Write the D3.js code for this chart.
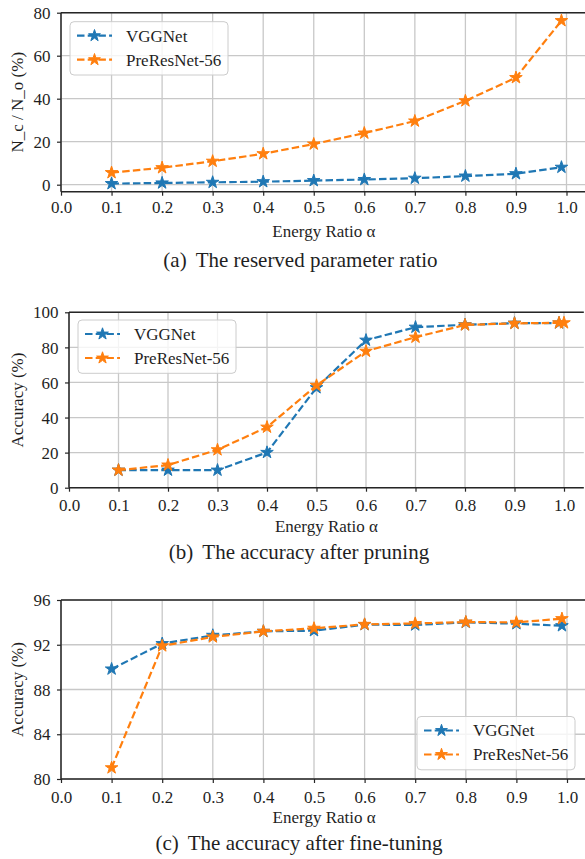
<!DOCTYPE html>
<html>
<head>
<meta charset="utf-8">
<script src="https://cdn.jsdelivr.net/npm/d3@7"></script>
<style>
  body { margin: 0; background: #fff; }
  text { font-family: "Liberation Serif", "Times New Roman", serif; fill: #1f1f1f; }
</style>
</head>
<body>
<svg id="chart" width="585" height="859"></svg>
<script>
// ---- data ----
var energyRatio = [0.1, 0.2, 0.3, 0.4, 0.5, 0.6, 0.7, 0.8, 0.9, 0.99];
var energyRatioEnd = [0.1, 0.2, 0.3, 0.4, 0.5, 0.6, 0.7, 0.8, 0.9, 0.99, 1.0];
var xTicks = [0.0, 0.1, 0.2, 0.3, 0.4, 0.5, 0.6, 0.7, 0.8, 0.9, 1.0];
var seriesNames = ['VGGNet', 'PreResNet-56'];

// (a) reserved parameter ratio N_c / N_o (%)
var paramVGG = [0.5, 0.8, 1.1, 1.4, 1.9, 2.4, 3.0, 4.0, 5.1, 8.1];
var paramPre = [5.6, 7.9, 10.9, 14.4, 18.9, 24.0, 29.6, 39.0, 49.8, 76.3];
var paramTicks = [0, 20, 40, 60, 80];

// (b) accuracy after pruning (%)
var pruneVGG = [10.0, 10.0, 10.0, 20.1, 57.0, 84.1, 91.5, 92.9, 93.8, 93.9];
var prunePre = [10.0, 12.9, 21.6, 34.5, 58.3, 77.8, 85.8, 92.8, 93.7, 94.0, 94.0];
var pruneTicks = [0, 20, 40, 60, 80, 100];

// (c) accuracy after fine-tuning (%)
var tuneVGG = [89.83, 92.1, 92.84, 93.2, 93.26, 93.8, 93.77, 94.0, 93.88, 93.7];
var tunePre = [81.0, 91.9, 92.7, 93.2, 93.47, 93.82, 93.9, 94.03, 94.0, 94.33];
var tuneTicks = [80, 84, 88, 92, 96];

var colors = ['#1f77b4', '#ff7f0e'];

// ---- layout of the three panels ----
var panels = [
  { xs: [energyRatio, energyRatio], ys: [paramVGG, paramPre], yTicks: paramTicks, yDomain: [-3.26, 80],
    left: 61, one: 566.5, top: 12.7, bottom: 191.7, tickLabelDy: 21.5,
    yLabel: 'N_c / N_o (%)', xLabelY: 236.7, cap: ['(a)', 'The reserved parameter ratio'], capY: 266.7, capX: 300.5,
    legend: { x: 70, y: 21.7 } },
  { xs: [energyRatio, energyRatioEnd], ys: [pruneVGG, prunePre], yTicks: pruneTicks, yDomain: [0, 100],
    left: 69, one: 564, top: 312.3, bottom: 487.7, tickLabelDy: 23.5,
    yLabel: 'Accuracy (%)', xLabelY: 531.7, cap: ['(b)', 'The accuracy after pruning'], capY: 559, capX: 299,
    legend: { x: 78, y: 320 } },
  { xs: [energyRatio, energyRatio], ys: [tuneVGG, tunePre], yTicks: tuneTicks, yDomain: [80, 96],
    left: 61, one: 567, top: 600, bottom: 779, tickLabelDy: 23.5,
    yLabel: 'Accuracy (%)', xLabelY: 823, cap: ['(c)', 'The accuracy after fine-tuning'], capY: 850, capX: 299,
    legend: { x: 417, y: 716.5 } }
];

var svg = d3.select('#chart');

// matplotlib style 5-point star
function starPath(r) {
  var pts = [];
  for (var i = 0; i < 10; i++) {
    var rr = i % 2 === 0 ? r : r * 0.382;
    var a = -Math.PI / 2 + i * Math.PI / 5;
    pts.push([rr * Math.cos(a), rr * Math.sin(a)]);
  }
  return 'M' + pts.map(function (p) { return p[0].toFixed(2) + ',' + p[1].toFixed(2); }).join('L') + 'Z';
}

panels.forEach(function (p) {
  var g = svg.append('g');
  var x = d3.scaleLinear().domain([0, 1]).range([p.left, p.one]);
  var y = d3.scaleLinear().domain(p.yDomain).range([p.bottom, p.top]);
  var xEnd = x(1.04);

  // grid
  g.append('g').selectAll('line').data(xTicks).enter().append('line')
    .attr('x1', function (d) { return x(d); }).attr('x2', function (d) { return x(d); })
    .attr('y1', p.top).attr('y2', p.bottom)
    .attr('stroke', '#c8c8c8').attr('stroke-width', 1.3);
  g.append('g').selectAll('line').data(p.yTicks).enter().append('line')
    .attr('x1', p.left).attr('x2', xEnd)
    .attr('y1', function (d) { return y(d); }).attr('y2', function (d) { return y(d); })
    .attr('stroke', '#c8c8c8').attr('stroke-width', 1.3);

  // axes
  var xAxis = d3.axisBottom(x).tickValues(xTicks).tickFormat(d3.format('.1f')).tickSizeInner(4).tickSizeOuter(0);
  var gx = g.append('g').attr('transform', 'translate(0,' + p.bottom + ')').call(xAxis);
  gx.select('.domain').remove();
  gx.selectAll('line').attr('stroke', '#262626').attr('stroke-width', 1.2);
  gx.selectAll('text').attr('y', p.tickLabelDy).attr('dy', null).attr('font-size', '17px');

  var yAxis = d3.axisLeft(y).tickValues(p.yTicks).tickFormat(d3.format('d')).tickSizeInner(4).tickSizeOuter(0);
  var gy = g.append('g').attr('transform', 'translate(' + p.left + ',0)').call(yAxis);
  gy.select('.domain').remove();
  gy.selectAll('line').attr('stroke', '#262626').attr('stroke-width', 1.2);
  gy.selectAll('text').attr('x', -10.5).attr('dy', '0.33em').attr('font-size', '17px');

  // spines (right spine falls outside the picture)
  g.append('line').attr('x1', p.left).attr('x2', xEnd).attr('y1', p.top).attr('y2', p.top)
    .attr('stroke', '#262626').attr('stroke-width', 1.5);
  g.append('line').attr('x1', p.left).attr('x2', xEnd).attr('y1', p.bottom).attr('y2', p.bottom)
    .attr('stroke', '#262626').attr('stroke-width', 1.5);
  g.append('line').attr('x1', p.left).attr('x2', p.left).attr('y1', p.top).attr('y2', p.bottom)
    .attr('stroke', '#262626').attr('stroke-width', 1.5);

  // series
  var line = d3.line().x(function (d) { return x(d[0]); }).y(function (d) { return y(d[1]); });
  p.ys.forEach(function (vals, si) {
    var pts = d3.zip(p.xs[si], vals);
    var sg = g.append('g');
    sg.append('path').datum(pts).attr('d', line)
      .attr('fill', 'none').attr('stroke', colors[si]).attr('stroke-width', 2.2)
      .attr('stroke-dasharray', '7.5,3.2');
    sg.selectAll('path.star').data(pts).enter().append('path').attr('class', 'star')
      .attr('d', starPath(6.6))
      .attr('transform', function (d) { return 'translate(' + x(d[0]) + ',' + y(d[1]) + ')'; })
      .attr('fill', colors[si]).attr('stroke', colors[si]).attr('stroke-width', 1);
  });

  // axis labels
  g.append('text').attr('x', (p.left + xEnd) / 2).attr('y', p.xLabelY)
    .attr('text-anchor', 'middle').attr('font-size', '17px').text('Energy Ratio α');
  g.append('text').attr('transform', 'translate(23,' + ((p.top + p.bottom) / 2) + ') rotate(-90)')
    .attr('text-anchor', 'middle').attr('font-size', '17px').text(p.yLabel);

  // caption
  var cap = g.append('text').attr('x', p.capX).attr('y', p.capY)
    .attr('text-anchor', 'middle').attr('font-size', '21px');
  cap.append('tspan').text(p.cap[0]);
  cap.append('tspan').attr('dx', 9).text(p.cap[1]);

  // legend
  var lg = g.append('g').attr('transform', 'translate(' + p.legend.x + ',' + p.legend.y + ')');
  lg.append('rect').attr('width', 158).attr('height', 53.3).attr('rx', 4)
    .attr('fill', 'rgba(255,255,255,0.8)').attr('stroke', '#cccccc').attr('stroke-width', 1);
  seriesNames.forEach(function (name, si) {
    var ry = 14 + si * 24;
    lg.append('line').attr('x1', 7).attr('x2', 42).attr('y1', ry).attr('y2', ry)
      .attr('stroke', colors[si]).attr('stroke-width', 2.2).attr('stroke-dasharray', '7.5,3.2');
    lg.append('path').attr('d', starPath(6.2)).attr('transform', 'translate(24.5,' + ry + ')')
      .attr('fill', colors[si]).attr('stroke', colors[si]).attr('stroke-width', 1);
    lg.append('text').attr('x', 56).attr('y', ry).attr('dy', '0.35em')
      .attr('font-size', '17px').text(name);
  });
});

svg.selectAll('text').style('font-family', '"Liberation Serif", "Times New Roman", serif');
</script>
</body>
</html>
